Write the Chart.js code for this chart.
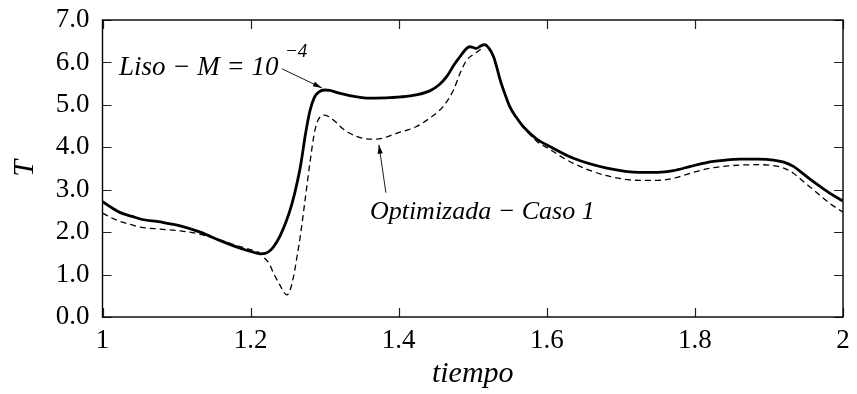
<!DOCTYPE html>
<html>
<head>
<meta charset="utf-8">
<script src="https://cdn.jsdelivr.net/npm/chart.js@4/dist/chart.umd.min.js"></script>
<style>
  html, body { margin: 0; padding: 0; background: #fff; }
  #c { display: block; }
</style>
</head>
<body>
<canvas id="c" width="857" height="394" style="width:857px;height:394px"></canvas>
<script>
// ---- data ----
const lisoX = [1.000,1.012,1.024,1.040,1.051,1.078,1.105,1.132,1.159,1.186,1.205,1.213,1.220,1.226,1.232,1.240,1.248,1.256,1.263,1.268,1.274,1.280,1.286,1.292,1.300,1.307,1.315,1.334,1.361,1.388,1.415,1.442,1.455,1.465,1.475,1.483,1.490,1.496,1.501,1.505,1.510,1.516,1.522,1.528,1.533,1.537,1.543,1.550,1.559,1.568,1.586,1.604,1.636,1.681,1.726,1.750,1.771,1.794,1.816,1.838,1.861,1.886,1.906,1.920,1.933,1.946,1.960,1.982,2.000];
const lisoY = [2.72,2.58,2.46,2.37,2.31,2.24,2.15,2.00,1.80,1.62,1.52,1.49,1.50,1.56,1.68,1.92,2.25,2.68,3.18,3.62,4.30,4.85,5.17,5.30,5.35,5.34,5.30,5.22,5.16,5.17,5.21,5.33,5.48,5.67,5.95,6.14,6.30,6.37,6.35,6.33,6.38,6.42,6.33,6.14,5.85,5.59,5.28,4.96,4.70,4.49,4.20,4.02,3.74,3.51,3.41,3.41,3.45,3.55,3.64,3.69,3.72,3.72,3.70,3.65,3.55,3.38,3.19,2.92,2.73];

const optX = [1.000,1.012,1.024,1.040,1.051,1.078,1.105,1.132,1.159,1.186,1.205,1.213,1.217,1.222,1.226,1.231,1.240,1.245,1.249,1.253,1.258,1.262,1.267,1.273,1.280,1.287,1.294,1.300,1.307,1.316,1.321,1.334,1.352,1.370,1.397,1.424,1.442,1.460,1.474,1.483,1.492,1.500,1.510,1.516,1.522,1.528,1.533,1.537,1.543,1.550,1.559,1.568,1.586,1.604,1.636,1.681,1.726,1.750,1.771,1.794,1.816,1.838,1.861,1.886,1.906,1.920,1.933,1.946,1.960,1.982,2.000];
const optY = [2.45,2.34,2.25,2.17,2.12,2.07,2.03,1.95,1.81,1.66,1.56,1.50,1.42,1.33,1.23,1.03,0.74,0.58,0.52,0.62,0.95,1.35,1.89,2.68,3.62,4.41,4.72,4.76,4.71,4.58,4.49,4.33,4.21,4.19,4.33,4.49,4.69,4.96,5.35,5.75,6.06,6.18,6.30,6.40,6.33,6.14,5.85,5.59,5.28,4.96,4.70,4.49,4.15,3.95,3.62,3.33,3.22,3.22,3.27,3.39,3.49,3.55,3.58,3.59,3.57,3.51,3.39,3.20,3.00,2.68,2.47];

const xTicks = [1, 1.2, 1.4, 1.6, 1.8, 2];
const yTicks = [0, 1, 2, 3, 4, 5, 6, 7];
const xTitle = 'tiempo';
const yTitle = 'T';
const label1 = 'Liso \u2212 M = 10';
const label1Sup = '\u22124';
const label2 = 'Optimizada \u2212 Caso 1';

// ---- rendering ----
const FAMILY = '"Liberation Serif", "Times New Roman", serif';

const toPts = (xs, ys) => xs.map((x, i) => ({ x: x, y: ys[i] }));

function arrow(ctx, x1, y1, x2, y2) {
  ctx.beginPath();
  ctx.moveTo(x1, y1);
  ctx.lineTo(x2, y2);
  ctx.stroke();
  const a = Math.atan2(y2 - y1, x2 - x1);
  const L = 9, W = 2.6;
  ctx.beginPath();
  ctx.moveTo(x2, y2);
  ctx.lineTo(x2 - L * Math.cos(a) + W * Math.sin(a), y2 - L * Math.sin(a) - W * Math.cos(a));
  ctx.lineTo(x2 - L * Math.cos(a) - W * Math.sin(a), y2 - L * Math.sin(a) + W * Math.cos(a));
  ctx.closePath();
  ctx.fill();
}

const framePlugin = {
  id: 'frame',
  afterDraw(chart) {
    const { ctx, chartArea: a, scales: { x, y } } = chart;
    ctx.save();
    // inward ticks on all four sides
    ctx.strokeStyle = '#222';
    ctx.lineWidth = 1.2;
    const tl = 9;
    ctx.beginPath();
    xTicks.forEach(v => {
      const px = Math.round(x.getPixelForValue(v)) + 0.5;
      ctx.moveTo(px, a.bottom); ctx.lineTo(px, a.bottom - tl);
      ctx.moveTo(px, a.top); ctx.lineTo(px, a.top + tl);
    });
    yTicks.forEach(v => {
      const py = Math.round(y.getPixelForValue(v)) + 0.5;
      ctx.moveTo(a.left, py); ctx.lineTo(a.left + tl, py);
      ctx.moveTo(a.right, py); ctx.lineTo(a.right - tl, py);
    });
    ctx.stroke();
    // frame
    ctx.strokeStyle = '#000';
    ctx.lineWidth = 1.4;
    ctx.strokeRect(a.left, a.top, a.right - a.left, a.bottom - a.top);

    // annotations
    ctx.fillStyle = '#000';
    ctx.strokeStyle = '#000';
    ctx.lineWidth = 0.9;
    ctx.textBaseline = 'alphabetic';
    ctx.textAlign = 'left';
    ctx.font = 'italic 27px ' + FAMILY;
    ctx.fillText(label1, x.getPixelForValue(1.0223), y.getPixelForValue(5.71));
    ctx.font = 'italic 19px ' + FAMILY;
    ctx.fillText(label1Sup, x.getPixelForValue(1.2464), y.getPixelForValue(6.13));
    arrow(ctx, x.getPixelForValue(1.2423), y.getPixelForValue(5.85), x.getPixelForValue(1.2963), y.getPixelForValue(5.40));

    ctx.font = 'italic 26px ' + FAMILY;
    ctx.fillText(label2, x.getPixelForValue(1.3611), y.getPixelForValue(2.31));
    arrow(ctx, x.getPixelForValue(1.3827), y.getPixelForValue(2.93), x.getPixelForValue(1.3733), y.getPixelForValue(4.06));
    ctx.restore();
  }
};

new Chart(document.getElementById('c'), {
  type: 'scatter',
  data: {
    datasets: [
      {
        label: 'Liso',
        data: toPts(lisoX, lisoY),
        showLine: true,
        borderColor: '#000',
        borderWidth: 2.8,
        pointRadius: 0,
        cubicInterpolationMode: 'monotone',
        fill: false
      },
      {
        label: 'Optimizada',
        data: toPts(optX, optY),
        showLine: true,
        borderColor: '#000',
        borderWidth: 1.3,
        borderDash: [6, 4],
        pointRadius: 0,
        cubicInterpolationMode: 'monotone',
        fill: false
      }
    ]
  },
  options: {
    responsive: false,
    animation: false,
    devicePixelRatio: 1,
    layout: { padding: { left: 0, right: 14, top: 20, bottom: 0 } },
    plugins: { legend: { display: false }, tooltip: { enabled: false } },
    scales: {
      x: {
        type: 'linear',
        min: 1, max: 2,
        afterBuildTicks: s => { s.ticks = xTicks.map(v => ({ value: v })); },
        grid: { display: false, drawTicks: false },
        border: { display: false },
        ticks: {
          color: '#000',
          padding: 8,
          maxRotation: 0,
          font: { family: FAMILY, size: 27 },
          callback: v => String(parseFloat(Number(v).toFixed(1)))
        },
        title: {
          display: true, text: xTitle, color: '#000',
          font: { family: FAMILY, size: 30, style: 'italic' },
          padding: { top: 0, bottom: 2 }
        },
        afterFit: s => { s.height = 77; s.paddingLeft = 0; s.paddingRight = 0; }
      },
      y: {
        type: 'linear',
        min: 0, max: 7,
        afterBuildTicks: s => { s.ticks = yTicks.map(v => ({ value: v })); },
        grid: { display: false, drawTicks: false },
        border: { display: false },
        ticks: {
          color: '#000',
          padding: 13,
          font: { family: FAMILY, size: 27 },
          callback: v => Number(v).toFixed(1)
        },
        title: {
          display: true, text: yTitle, color: '#000',
          font: { family: FAMILY, size: 30, style: 'italic' },
          padding: { top: 7, bottom: 0 }
        },
        afterFit: s => { s.width = 102.5; s.paddingTop = 0; s.paddingBottom = 0; }
      }
    }
  },
  plugins: [framePlugin]
});
</script>
</body>
</html>
